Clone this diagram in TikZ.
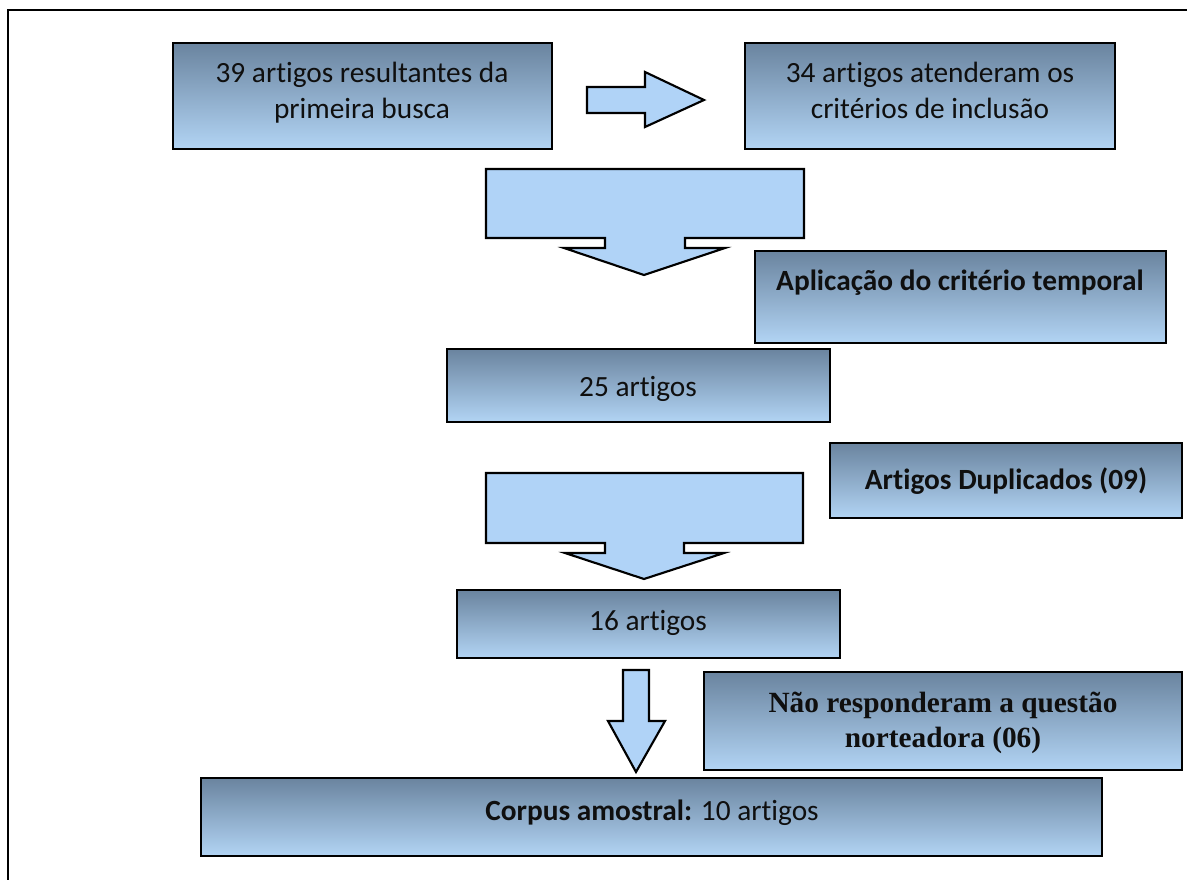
\documentclass[tikz,border=0pt]{standalone}
\usepackage{fontspec}
\setmainfont{Carlito}[Ligatures=NoCommon]
\newfontfamily\serifbold{Liberation Serif}
\usetikzlibrary{fit,shadows}
\definecolor{gtop}{RGB}{106,132,159}
\definecolor{gbot}{RGB}{178,212,244}
\definecolor{arrowfill}{RGB}{176,211,247}
\definecolor{txtcol}{RGB}{15,15,15}
\begin{document}
\begin{tikzpicture}[x=0.75pt,y=-0.75pt,
  box/.style={draw=black, line width=2.2pt, top color=gtop, bottom color=gbot,
    inner sep=0pt, drop shadow={shadow xshift=1.1pt, shadow yshift=-1.1pt, fill=black!30, opacity=1}},
  txt/.style={font=\fontsize{22}{27}\selectfont, align=center, text=txtcol, inner sep=0pt, anchor=base},
  btxt/.style={txt, font=\fontsize{22}{27}\selectfont\bfseries},
  stxt/.style={txt, font=\fontsize{22}{27}\selectfont\serifbold\bfseries},
  blockarrow/.style={draw=black, line width=1.6pt, fill=arrowfill, line join=miter}]
\useasboundingbox (0,0) rectangle (1187,880);
% frame
\draw[line width=1.9pt] (8,880) -- (8,10) -- (1187,10);

% boxes
\node[box, fit={(173,43) (552,149)}] (b1) {};
\node[txt] (t1a) at (362,83) {39 artigos resultantes da};
\node[txt] (t1b) at (362,119) {primeira busca};
\node[box, fit={(745,43) (1115,149)}] (b2) {};
\node[txt] (t2a) at (930,83) {34 artigos atenderam os};
\node[txt] (t2b) at (930,119) {critérios de inclusão};
\node[box, fit={(755,251) (1166,343)}] (b3) {};
\node[btxt] (t3) at (960,291) {Aplicação do critério temporal};
\node[box, fit={(447,349) (830,422)}] (b4) {};
\node[txt] (t4) at (638,396) {25 artigos};
\node[box, fit={(830,443) (1182,518)}] (b5) {};
\node[btxt] (t5) at (1006,489) {Artigos Duplicados (09)};
\node[box, fit={(457,590) (840,658)}] (b6) {};
\node[txt] (t6) at (648,630) {16 artigos};
\node[box, fit={(704,672) (1182,770)}] (b7) {};
\node[stxt] (t7a) at (943,712) {Não responderam a questão};
\node[stxt] (t7b) at (943,747) {norteadora (06)};
\node[box, fit={(201,778) (1102,856)}] (b8) {};
\node[txt] (t8) at (652,820) {\textbf{Corpus amostral:} 10 artigos};

% block arrows
\draw[blockarrow] (587,87) -- (645,87) -- (645,72) -- (704,100) -- (645,127) -- (645,113) -- (587,113) -- cycle;
\draw[blockarrow] (486,169) -- (804,169) -- (804,238) -- (685,238) -- (685,248) -- (725,248)
  -- (644,275) -- (564,248) -- (605,248) -- (605,238) -- (486,238) -- cycle;
\draw[blockarrow] (486,473) -- (803,473) -- (803,543) -- (684,543) -- (684,553) -- (724,553)
  -- (644,579) -- (565,553) -- (605,553) -- (605,543) -- (486,543) -- cycle;
\draw[blockarrow] (623,670) -- (649,670) -- (649,721) -- (665,721) -- (636,772) -- (608,721) -- (623,721) -- cycle;
\end{tikzpicture}
\end{document}
